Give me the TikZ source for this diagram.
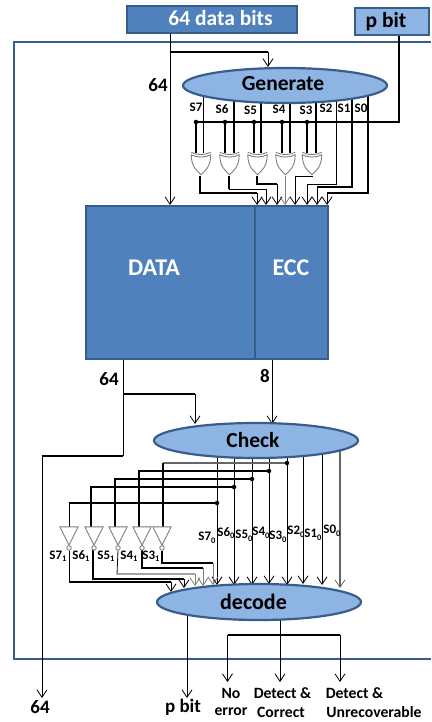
\documentclass[tikz,border=0pt]{standalone}
\usepackage{fontspec}
\setmainfont{Carlito}
\usetikzlibrary{arrows.meta,backgrounds,calc}
\definecolor{boxblue}{HTML}{4F81BD}
\definecolor{lightblue}{HTML}{8EB4E3}
\definecolor{edgeblue}{HTML}{385D8A}
\definecolor{gategray}{HTML}{7F7F7F}
\definecolor{wiregray}{HTML}{666666}
\newcommand{\sbs}[1]{\raisebox{-2.5pt}{\fontsize{8.5}{8.5}\selectfont #1}}
\tikzset{
  >={Straight Barb[length=7.5pt,width=10pt,line width=0.8pt]},
  thinw/.style={line width=0.8pt,black},
  thickw/.style={line width=1.9pt,black},
  grayw/.style={line width=1.5pt,wiregray},
  solidbox/.style={draw=edgeblue,line width=2.2pt,fill=boxblue,inner sep=0pt,text=white,font=\bfseries\fontsize{21.5}{23}\selectfont},
  oval/.style={draw=edgeblue,line width=2.2pt,fill=lightblue,inner sep=0pt,font=\bfseries\fontsize{21.5}{23}\selectfont,ellipse},
  lab/.style={inner sep=0pt,font=\bfseries\fontsize{19}{21}\selectfont},
  slab/.style={inner sep=0pt,font=\bfseries\fontsize{13}{15}\selectfont},
  olab/.style={inner sep=0pt,font=\bfseries\fontsize{15.7}{17}\selectfont},
  gatebox/.style={inner sep=0pt,minimum width=18pt,minimum height=18pt},
  gateline/.style={draw=gategray,line width=0.9pt,fill=white},
  bubble/.style={circle,draw=gategray,line width=0.9pt,fill=white,inner sep=0pt,minimum size=4.5pt},
  dotn/.style={circle,fill=black,inner sep=0pt,minimum size=4.5pt},
}
\usetikzlibrary{shapes.geometric}
\begin{document}
\begin{tikzpicture}[x=1pt,y=-1pt]
\useasboundingbox (0,0) rectangle (431,722);
% blocks
\node[solidbox,minimum width=170pt,minimum height=27pt] (bits) at (212,19.5) {};
\node[inner sep=0pt,text=white,font=\bfseries\fontsize{21.5}{23}\selectfont] (bitst) at (220.5,18) {64 data bits};
\node[solidbox,fill=lightblue,text=black,minimum width=74pt,minimum height=27pt] (pin) at (392,21.5) {};
\node[inner sep=0pt,font=\bfseries\fontsize{21.5}{23}\selectfont] (pint) at (386,22) {p bit};
\node[oval,minimum width=204pt,minimum height=35pt] (gen) at (285,85.5) {};
\node[inner sep=0pt,font=\bfseries\fontsize{21.5}{23}\selectfont] (gent) at (283,84) {Generate};
\node[solidbox,minimum width=169pt,minimum height=153pt] (data) at (170.5,282.5) {};
\node[solidbox,minimum width=73pt,minimum height=153pt] (ecc) at (291.5,282.5) {};
\node[inner sep=0pt,text=white,font=\bfseries\fontsize{24}{26}\selectfont] (datat) at (154,268) {DATA};
\node[inner sep=0pt,text=white,font=\bfseries\fontsize{24}{26}\selectfont] (ecct) at (291,268) {ECC};
\node[oval,minimum width=204pt,minimum height=35pt] (check) at (256,440.5) {};
\node[inner sep=0pt,font=\bfseries\fontsize{21.5}{23}\selectfont] (checkt) at (253,440.5) {Check};
\node[oval,minimum width=204pt,minimum height=36pt] (dec) at (259,602) {};
\node[inner sep=0pt,font=\bfseries\fontsize{22}{24}\selectfont] (dect) at (253.5,602) {decode};
% xor gates
\foreach \n/\x in {1/201,2/229.5,3/257.5,4/285.5,5/312}{
  \node[gatebox,minimum width=19pt,minimum height=21pt] (x\n) at (\x,163) {};
  \draw[gateline] ($(x\n.north west)+(0,2.5)$) .. controls ($(x\n.north)+(-4,5.5)$) and ($(x\n.north)+(4,5.5)$) .. ($(x\n.north east)+(0,2.5)$)
     .. controls ($(x\n.east)+(0,4)$) and ($(x\n.south)+(4,-3)$) .. ($(x\n.south)+(0,1)$)
     .. controls ($(x\n.south)+(-4,-3)$) and ($(x\n.west)+(0,4)$) .. cycle;
  \draw[gateline,fill=none] ($(x\n.north west)+(0,0)$) .. controls ($(x\n.north)+(-4,3)$) and ($(x\n.north)+(4,3)$) .. ($(x\n.north east)+(0,0)$);
}
% inverters
\foreach \n/\x in {1/69,2/94,3/118,4/142,5/162}{
  \node[gatebox,minimum height=18pt] (i\n) at (\x,536) {};
  \draw[gateline] (i\n.north west) -- (i\n.north east) -- (i\n.south) -- cycle;
  \node[bubble,anchor=north] (b\n) at (i\n.south) {};
}
% labels
\node[lab] (l64a) at (158,85) {64};
\node[lab] (l64b) at (109,379) {64};
\node[lab] (l8) at (265,376) {8};
\node[lab] (l64c) at (40,707) {64};
\node[lab] (lpb) at (183,707) {p bit};
\foreach \t/\x/\y in {S7/196/107,S6/222/109,S5/250.5/110,S4/279/109,S3/306/110,S2/326/108,S1/344/108,S0/361/108}
  \node[slab] at (\x,\y) {\t};
\foreach \t/\x in {S7/58,S6/81,S5/106,S4/129,S3/151}
  \node[slab] at (\x,556) {\t\sbs{1}};
\foreach \t/\x/\y in {S7/207/538,S6/226/533,S5/244/536,S4/261/533,S3/278/537,S2/296/532,S1/313/535,S0/332/531}
  \node[slab] at (\x,\y) {\t\sbs{0}};
\node[olab] (o1) at (231,693) {No};
\node[olab] (o2) at (231,712) {error};
\node[olab] (o3) at (282.5,693) {Detect \&};
\node[olab] (o4) at (281,712) {Correct};
\node[olab] (o5) at (354.5,693) {Detect \&};
\node[olab] (o6) at (374,712) {Unrecoverable};
% named wire points
\coordinate (dbr) at (170,52);
\coordinate (dgen) at (268,52);
\coordinate (dend) at (170,205);
\coordinate (pcor) at (399,122);
\coordinate (brk) at (123,394);
\coordinate (bchk) at (195,394);
\coordinate (l1) at (123,456);
\coordinate (l2) at (42,456);
\coordinate (out64) at (42,698);
\coordinate (outp) at (187,698);
\coordinate (bl) at (227.5,635);
\coordinate (bc) at (280,635);
\coordinate (br) at (340,635);
\begin{scope}[on background layer]
  \draw[edgeblue,line width=2pt] (431,42) -- (14,42) -- (14,659) -- (431,659);
  % input wires
  \draw[thinw,->] (bits.south -| dbr) -- (dend);
  \draw[thickw] (dbr) -- (dgen);
  \draw[thinw,->] (dgen) -- (dgen |- gen.north);
  \draw[thickw] (pin.south -| pcor) -- (pcor) -- (pcor -| 196,0);
  % generate outputs into xor
  \foreach \n/\x/\w in {1/203/thinw,2/234/thickw,3/261/thickw,4/290/thickw,5/316/thickw}
    \draw[\w] (\x,0 |- gen) -- (\x,153);
  \foreach \n/\x/\w in {1/196/thickw,2/225/thickw,3/254/thickw,4/282/thickw,5/307/thickw}{
    \coordinate (pd\n) at (\x,122);
    \draw[\w] (pd\n) -- (\x,153);
  }
  % parity bits
  \draw[thinw,->] (336,0 |- gen) -- (336,184) -- (307,184) -- (307,205);
  \draw[thickw] (352,0 |- gen) -- (352,187) -- (317,187);
  \draw[thinw,->] (317,187) -- (317,205);
  \draw[thickw] (368,0 |- gen) -- (368,193) -- (327,193);
  \draw[thinw,->] (327,193) -- (327,205);
  % xor outputs
  \draw[thickw] (200,176) -- (200,193) -- (257,193);
  \draw[thinw,->] (257,193) -- (257,205);
  \draw[thickw] (229,176) -- (229,189);
  \draw[thinw,->] (229,189) -- (266,189) -- (266,205);
  \draw[thickw] (257,176) -- (257,184) -- (277,184);
  \draw[thinw,->] (277,184) -- (277,205);
  \draw[line width=0.8pt,gategray,->] (285,176) -- (285,205);
  \draw[thinw,->] (313,176) -- (295,176) -- (295,205);
  % data out
  \draw[thinw] (data.south -| brk) -- (l1) ;
  \draw[thickw] (brk) -- (bchk);
  \draw[thinw,->] (bchk) -- (195,424);
  \draw[thickw] (l1) -- (l2);
  \draw[thinw,->] (l2) -- (out64);
  \draw[thinw,->] (ecc.south -| 272,0) -- (272,424);
  % check outputs
  \foreach \x/\y in {217/585,234/585,252/585,269/584,287/585,303/584,322/585}
    \draw[thinw,->] (\x,0 |- check) -- (\x,\y);
  \draw[grayw,->] (340,0 |- check) -- (340,588);
  % feedback to inverters
  \draw[grayw] (287,463) -- (163,463);
  \draw[thickw] (163,463) -- (163,527);
  \draw[thickw] (269,471) -- (139,471) -- (139,527);
  \draw[thickw] (252,479) -- (115,479) -- (115,527);
  \draw[thickw] (234,487) -- (91,487) -- (91,527);
  \draw[thickw] (217,503) -- (69,503);
  \draw[thinw] (69,503) -- (69,527);
  % inverter outputs
  \draw[thinw] (b1.south) -- (69,582);
  \draw[thickw] (69,582) -- (171,582);
  \draw[thinw,->] (171,582) -- (171,592);
  \draw[thickw] (93,550) -- (93,579) -- (184,579);
  \draw[thinw,->] (184,579) -- (184,588);
  \draw[thinw] (b3.south) -- (117,574) -- (195,574);
  \draw[line width=0.8pt,gategray,->] (195,574) -- (195,586);
  \draw[thickw] (142,550) -- (142,568) -- (203,568);
  \draw[line width=0.8pt,gategray,->] (203,568) -- (203,586);
  \draw[thickw] (b5.south) -- (162,563) -- (213,563);
  \draw[line width=0.8pt,gategray,->] (213,563) -- (213,585);
  % decode outputs
  \draw[thinw,->] (outp |- dec) -- (outp);
  \draw[thinw,->] (bc |- dec) -- (280,682);
  \draw[thickw] (bl) -- (br);
  \draw[thinw,->] (bl) -- (227.5,682);
  \draw[thinw,->] (br) -- (340,682);
\end{scope}
% junction dots
\foreach \x/\y in {196/122,225/122,254/122,282/122,307/122,287/463,269/471,252/479,234/487,217/503}
  \node[dotn] at (\x,\y) {};
\end{tikzpicture}
\end{document}
